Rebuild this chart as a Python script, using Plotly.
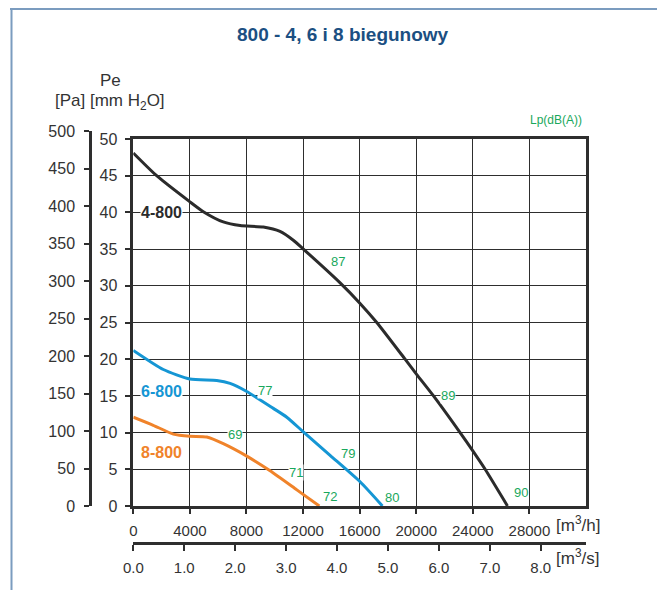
import plotly.graph_objects as go

# ---------------- data ----------------
flow_4 = [0, 1650, 3960, 4950, 6360, 7550, 9190, 10370, 11310, 12020, 14620, 16030, 17210, 19210, 20040, 21220, 23100, 24000, 24870, 26450]
pres_4 = [48.1, 45.0, 41.5, 40.1, 38.7, 38.2, 38.0, 37.4, 36.2, 35.0, 30.4, 27.6, 25.0, 20.0, 17.9, 15.0, 10.0, 7.5, 5.0, 0.0]

flow_6 = [0, 2120, 4000, 5900, 6840, 8020, 9900, 10850, 12020, 13910, 16030, 17610]
pres_6 = [21.2, 18.6, 17.3, 17.1, 16.7, 15.6, 13.3, 12.1, 10.1, 6.9, 3.3, 0.0]

flow_8 = [0, 1410, 2830, 4000, 5190, 6360, 8020, 9670, 11560, 13150]
pres_8 = [12.1, 11.0, 9.8, 9.5, 9.4, 8.5, 6.8, 4.8, 2.2, 0.0]

series_names = ["4-800", "6-800", "8-800"]
series_colors = ["#2b2b2b", "#1596d4", "#f0832a"]
series_label_pos = [(470, 40.0), (470, 15.6), (470, 7.3)]

db_text = ["87", "89", "90", "77", "79", "80", "69", "71", "72"]
db_flow = [14490, 22260, 27400, 9310, 15190, 18260, 7190, 11480, 13900]
db_pres = [33.3, 15.0, 1.8, 15.7, 7.2, 1.2, 9.7, 4.5, 1.3]

x_ticks_h = [0, 4000, 8000, 12000, 16000, 20000, 24000, 28000]
x_ticks_s = [0, 1, 2, 3, 4, 5, 6, 7, 8]
y_ticks_mm = [0, 5, 10, 15, 20, 25, 30, 35, 40, 45, 50]
y_ticks_pa = [0, 50, 100, 150, 200, 250, 300, 350, 400, 450, 500]

title_text = "800 - 4, 6 i 8 biegunowy"

# ---------------- layout geometry ----------------
# the page body adds an 8px offset; figure is sized to fill the rest of the window
W_FIG, H_FIG = 657, 582
L, R, T, B = 32, 79, 123, 40
PW = W_FIG - L - R
PH = H_FIG - T - B
OFF = 8


def px2x(px):
    return (px - OFF - L) / PW


def py2y(py):
    return (H_FIG - B - (py - OFF)) / PH


FONT = "Liberation Sans, Arial, sans-serif"
DARK = "#2e2e2e"
GREEN = "#19a85c"

fig = go.Figure()

for fl, pr, name, col in zip([flow_4, flow_6, flow_8], [pres_4, pres_6, pres_8], series_names, series_colors):
    fig.add_trace(go.Scatter(x=fl, y=pr, mode="lines", name=name,
                             line=dict(color=col, width=3, shape="spline", smoothing=0.6),
                             hoverinfo="skip", showlegend=False))

# dummy trace for secondary axes (m3/s and Pa)
fig.add_trace(go.Scatter(x=[0, 32000 / 3600], y=[0, 500], xaxis="x2", yaxis="y2",
                         mode="lines", line=dict(color="rgba(0,0,0,0)"),
                         hoverinfo="skip", showlegend=False))

axis_common = dict(showline=True, linecolor=DARK, linewidth=2.5, ticks="outside",
                   tickcolor=DARK, tickwidth=2, zeroline=False)
font_y = dict(family=FONT, size=16, color="#333")
font_x = dict(family=FONT, size=15, color="#333")

fig.update_layout(
    width=W_FIG, height=H_FIG,
    margin=dict(l=L, r=R, t=T, b=B, pad=0),
    paper_bgcolor="white", plot_bgcolor="rgba(0,0,0,0)",
    xaxis=dict(domain=[px2x(133.3), 1], range=[0, 32000], tickvals=x_ticks_h,
               ticktext=[str(v) for v in x_ticks_h], showgrid=True, gridcolor=DARK,
               gridwidth=1.4, mirror=True, anchor="y", ticklen=5,
               ticklabelstandoff=4, tickfont=font_x, **axis_common),
    yaxis=dict(domain=[py2y(506), py2y(139)], range=[0, 50], tickvals=y_ticks_mm,
               showgrid=True, gridcolor=DARK, gridwidth=1.4, mirror=True, anchor="x",
               ticklen=6, ticklabelstandoff=4, tickfont=font_y, **axis_common),
    xaxis2=dict(domain=[px2x(133.3), 1], range=[0, 32000 / 3600], tickvals=x_ticks_s,
                ticktext=["%.1f" % v for v in x_ticks_s], anchor="free",
                position=py2y(543), side="bottom", showgrid=False, ticklen=6,
                ticklabelstandoff=4, tickfont=font_x, **axis_common),
    yaxis2=dict(domain=[py2y(506), py2y(131)], range=[0, 500], tickvals=y_ticks_pa,
                anchor="free", position=px2x(90), side="left", showgrid=False,
                ticklen=5, ticklabelstandoff=6, tickfont=font_y, **axis_common),
)

annotations = []
# title
annotations.append(dict(text="<b>%s</b>" % title_text, x=px2x(343), y=py2y(35),
                        xref="paper", yref="paper", showarrow=False,
                        font=dict(family=FONT, size=19, color="#1b4f82"),
                        xanchor="center", yanchor="middle"))
# axis titles
annotations.append(dict(text="Pe", x=px2x(110), y=py2y(81), xref="paper", yref="paper",
                        showarrow=False, font=dict(family=FONT, size=17, color="#333"),
                        xanchor="center", yanchor="middle"))
annotations.append(dict(text="[Pa] [mm H<sub>2</sub>O]", x=px2x(110), y=py2y(102),
                        xref="paper", yref="paper", showarrow=False,
                        font=dict(family=FONT, size=17, color="#333"),
                        xanchor="center", yanchor="middle"))
annotations.append(dict(text="Lp(dB(A))", x=px2x(584), y=py2y(120), xref="paper",
                        yref="paper", showarrow=False,
                        font=dict(family=FONT, size=12, color=GREEN),
                        xanchor="right", yanchor="middle"))
annotations.append(dict(text="[m<sup>3</sup>/h]", x=px2x(554), y=py2y(524), xref="paper",
                        yref="paper", showarrow=False,
                        font=dict(family=FONT, size=17, color="#333"),
                        xanchor="left", yanchor="middle"))
annotations.append(dict(text="[m<sup>3</sup>/s]", x=px2x(554), y=py2y(557), xref="paper",
                        yref="paper", showarrow=False,
                        font=dict(family=FONT, size=17, color="#333"),
                        xanchor="left", yanchor="middle"))
# series labels
for name, col, (fx, fy) in zip(series_names, series_colors, series_label_pos):
    annotations.append(dict(text="<b>%s</b>" % name, x=fx, y=fy, xref="x", yref="y",
                            showarrow=False, bgcolor="white", borderpad=0,
                            font=dict(family=FONT, size=16, color=col),
                            xanchor="left", yanchor="middle"))
# dB labels
for t, fx, fy in zip(db_text, db_flow, db_pres):
    annotations.append(dict(text=t, x=fx, y=fy, xref="x", yref="y", showarrow=False,
                            bgcolor="white", borderpad=0,
                            font=dict(family=FONT, size=13, color=GREEN),
                            xanchor="center", yanchor="middle"))
fig.update_layout(annotations=annotations)

# outer frame lines (top and left)
fig.add_shape(type="line", xref="paper", yref="paper", x0=px2x(10), x1=px2x(670),
              y0=py2y(9), y1=py2y(9), line=dict(color="#7b9cbf", width=2))
fig.add_shape(type="line", xref="paper", yref="paper", x0=px2x(11.5), x1=px2x(11.5),
              y0=py2y(9), y1=py2y(595), line=dict(color="#7b9cbf", width=2))

fig.write_html("out.html")
